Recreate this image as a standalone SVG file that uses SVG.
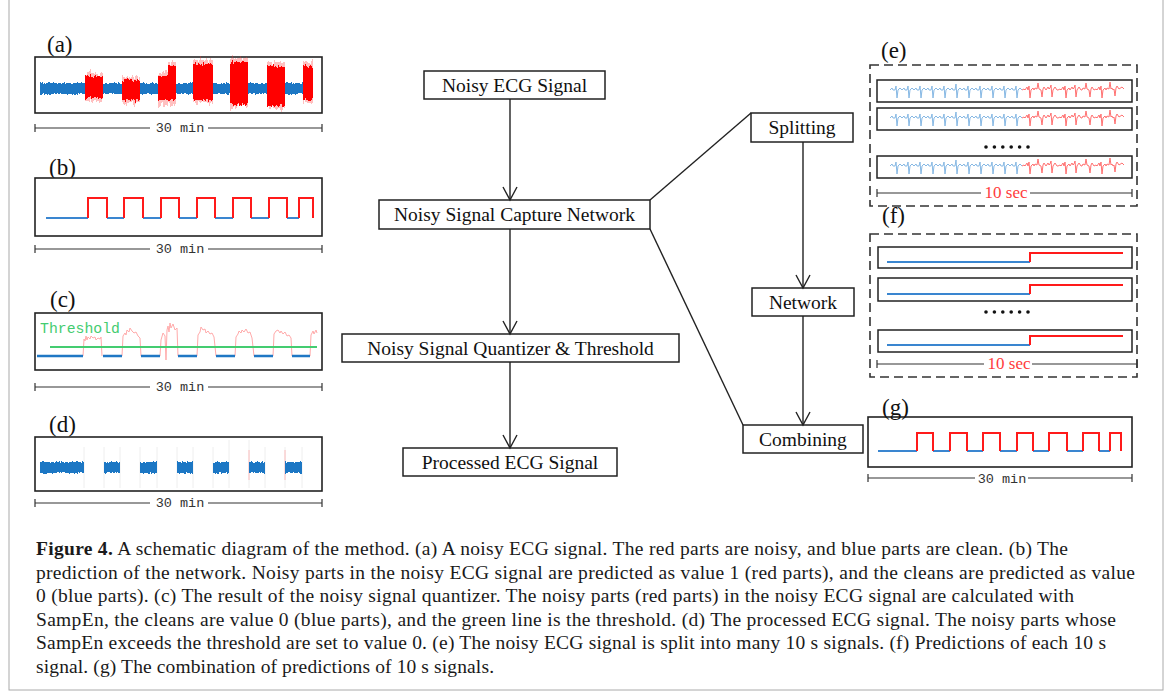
<svg xmlns="http://www.w3.org/2000/svg" width="1171" height="698" viewBox="0 0 1171 698">
<style>
.box{fill:#fff;stroke:#222;stroke-width:1.5}
.lbl{font-family:"Liberation Serif","Times New Roman",serif;font-size:19.5px;fill:#111;text-anchor:middle}
.conn{stroke:#222;stroke-width:1.4;fill:none}
.panel{fill:#fff;stroke:#222;stroke-width:1.6}
.plbl{font-family:"Liberation Serif","Times New Roman",serif;font-size:23px;fill:#111}
.bar{stroke:#333;stroke-width:1.2;fill:none}
.mono{font-family:"Liberation Mono","Courier New",monospace;font-size:13.5px;fill:#333;text-anchor:middle}
.sec{font-family:"Liberation Serif","Times New Roman",serif;font-size:17px;fill:#ff3b3b;text-anchor:middle}
.dash{fill:none;stroke:#333;stroke-width:1.6;stroke-dasharray:9 5}
.row{fill:#fff;stroke:#222;stroke-width:1.5}
.cap{font-family:"Liberation Serif","Times New Roman",serif;font-size:19.5px;fill:#1a1a1a}
.blue{stroke:#3a86d0;stroke-width:2;fill:none}
.red{stroke:#ff1a1a;stroke-width:2;fill:none}
</style>
<defs>
<marker id="arr" markerUnits="userSpaceOnUse" markerWidth="16" markerHeight="16" viewBox="0 0 16 16" refX="14" refY="8" orient="auto">
<path d="M1,1 L14,8 L1,15" fill="none" stroke="#222" stroke-width="1.4"/>
</marker>
<filter id="nzR" x="-10%" y="-100%" width="120%" height="300%">
<feTurbulence type="fractalNoise" baseFrequency="0.6 0.08" numOctaves="2" seed="3" result="t"/>
<feColorMatrix in="t" type="matrix" values="1 0 0 0 0  0 0 0 0 0.5  0 0 1 0 0  0 0 0 0 1" result="m"/>
<feDisplacementMap in="SourceGraphic" in2="m" scale="8" xChannelSelector="G" yChannelSelector="R"/>
</filter>
<filter id="nzR2" x="-10%" y="-100%" width="120%" height="300%">
<feTurbulence type="fractalNoise" baseFrequency="0.5 0.05" numOctaves="2" seed="11" result="t"/>
<feColorMatrix in="t" type="matrix" values="1 0 0 0 0  0 0 0 0 0.5  0 0 1 0 0  0 0 0 0 1" result="m"/>
<feDisplacementMap in="SourceGraphic" in2="m" scale="12" xChannelSelector="G" yChannelSelector="R"/>
</filter>
<filter id="nzB" x="-5%" y="-100%" width="110%" height="300%">
<feTurbulence type="fractalNoise" baseFrequency="0.8 0.1" numOctaves="2" seed="7" result="t"/>
<feColorMatrix in="t" type="matrix" values="1 0 0 0 0  0 0 0 0 0.5  0 0 1 0 0  0 0 0 0 1" result="m"/>
<feDisplacementMap in="SourceGraphic" in2="m" scale="4" xChannelSelector="G" yChannelSelector="R"/>
</filter>
<g id="ecg">
<path d="M890,10 l2,-2 l1,2 l2,0 l1,-4 l1,12 l1,-8 l2,-2 l2,2 l2,-2 l1,2 l2,0 l1,-4 l1,12 l1,-8 l2,-2 l2,2 l2,-2 l1,2 l2,0 l1,-4 l1,12 l1,-8 l2,-2 l2,2 l2,-2 l1,2 l2,0 l1,-4 l1,12 l1,-8 l2,-2 l2,2 l2,-2 l1,2 l2,0 l1,-4 l1,12 l1,-8 l2,-2 l2,2 l2,-2 l1,2 l2,0 l1,-6 l1,14 l1,-8 l2,-2 l2,2 l2,-2 l1,2 l2,0 l1,-4 l1,12 l1,-8 l2,-2 l2,2 l2,-2 l1,2 l2,0 l1,-4 l1,12 l1,-8 l2,-2 l2,2 l2,-2 l1,2 l2,0 l1,-4 l1,12 l1,-8 l2,-2 l2,2 l2,-2 l1,2 l2,0 l1,-4 l1,12 l1,-8 l2,-2 l2,2 l2,-2 l1,2 l2,0 l1,-4 l1,12 l1,-8 l2,-2 l2,2" fill="none" stroke="#86b8e4" stroke-width="1"/>
<path d="M1022,10 l2,-1 l1,1 l2,-3 l1,3 l1,-4 l1,12 l1,-8 l2,-2 l1,2 l1,-2 l2,1 l1,-6 l1,6 l2,1 l1,7 l1,-8 l1,-2 l2,3 l2,-3 l1,2 l1,-1 l1,-3 l1,12 l1,-7 l2,-3 l2,3 l1,0 l2,-1 l1,1 l2,-3 l1,3 l1,-4 l1,12 l1,-8 l2,-2 l1,2 l2,-3 l1,2 l1,-1 l1,-3 l1,12 l1,-7 l2,-3 l2,3 l1,0 l1,-2 l2,1 l1,-6 l1,6 l2,1 l1,7 l1,-8 l1,-2 l2,3 l2,-1 l1,1 l2,-3 l1,3 l1,-4 l1,12 l1,-8 l2,-2 l1,2 l1,-2 l2,1 l1,-7 l1,7 l1,-1 l1,2 l1,-1 l1,7 l1,-8 l1,-2 l2,3 l3,-2 l2,2" fill="none" stroke="#ff7070" stroke-width="1"/>
</g>
<g id="pred">
<path d="M887,15 H1030" class="blue"/>
<path d="M1030,15 V6 H1123" class="red"/>
</g>
</defs>
<rect x="0" y="0" width="1171" height="698" fill="#fff"/>
<rect x="9" y="-2" width="1154" height="692" fill="none" stroke="#aaa" stroke-width="1"/>

<!-- Panel (a) -->
<g id="panel-a">
<text class="plbl" x="47" y="52">(a)</text>
<rect class="panel" x="35" y="57" width="287" height="56"/>
<g filter="url(#nzB)"><rect x="40" y="83" width="263" height="11" fill="#1f77c4"/></g>
<g filter="url(#nzR2)" fill="#ff3030" opacity="0.3">
<rect x="85" y="73" width="18" height="28"/><rect x="122" y="77" width="18" height="26"/>
<path d="M158,73 H168 V62 H176 V104 H158 Z"/><rect x="193" y="60" width="20" height="43"/>
<rect x="230" y="58" width="18" height="49"/><rect x="267" y="62" width="18" height="47"/>
<rect x="303" y="62" width="10" height="41"/>
</g>
<g filter="url(#nzR)" fill="#ff0000">
<rect x="85" y="76" width="18" height="22"/><rect x="122" y="80" width="18" height="20"/>
<path d="M158,76 H168 V66 H176 V100 H158 Z"/><rect x="193" y="64" width="20" height="36"/>
<rect x="230" y="62" width="18" height="42"/><rect x="267" y="66" width="18" height="40"/>
<rect x="303" y="66" width="10" height="34"/>
</g>
<path class="bar" d="M35,124 V132 M35,128 H150 M208,128 H322 M322,124 V132"/>
<text class="mono" x="180" y="132">30 min</text>
</g>

<!-- Panel (b) -->
<g id="panel-b">
<text class="plbl" x="49" y="175">(b)</text>
<rect class="panel" x="35" y="178" width="287" height="58"/>
<path class="blue" d="M46,218 H88 M107,218 H124 M143,218 H161 M179,218 H197 M215,218 H233 M251,218 H269 M287,218 H299"/>
<path class="red" d="M88,218 V198 H107 V218 M124,218 V198 H143 V218 M161,218 V198 H179 V218 M197,218 V198 H215 V218 M233,218 V198 H251 V218 M269,218 V198 H287 V218 M299,218 V198 H313 V218"/>
<path class="bar" d="M35,245 V253 M35,249 H150 M208,249 H322 M322,245 V253"/>
<text class="mono" x="180" y="253">30 min</text>
</g>

<!-- Panel (c) -->
<g id="panel-c">
<text class="plbl" x="50" y="307">(c)</text>
<rect class="panel" x="35" y="313" width="287" height="57"/>
<path fill="none" stroke="#ffaaaa" stroke-width="1" d="M83,356 L84,339 L85,341 L86,336 L87,340 L88,337 L90,339 L91,336 L93,338 L95,337 L96,340 L98,338 L100,339 L101,337 L102,356 M122,356 L123,336 L125,333 L126,335 L127,330 L129,332 L130,328 L132,331 L134,333 L136,332 L138,336 L140,338 L141,356 M160,356 L161,340 L163,333 L165,336 L166,360 L167,330 L168,326 L169,332 L170,323 L171,328 L173,324 L175,330 L177,328 L178,356 M197,356 L198,335 L200,332 L201,327 L203,330 L205,329 L206,333 L208,331 L210,334 L212,333 L214,337 L216,356 M235,356 L236,337 L238,334 L239,331 L241,333 L242,330 L244,332 L246,329 L248,333 L250,332 L252,338 L254,356 M273,356 L274,334 L276,331 L278,330 L280,333 L281,331 L283,334 L285,332 L287,336 L289,335 L291,338 L292,356 M310,356 L311,335 L313,331 L314,334 L316,330 L317,333"/>
<path d="M37,356 H83 M103,356 H122 M141,356 H160 M178,356 H197 M216,356 H235 M254,356 H273 M292,356 H310" stroke="#1f77c4" stroke-width="2.5" fill="none"/>
<path d="M50,347 H317" stroke="#44cc70" stroke-width="2" fill="none"/>
<text x="40" y="333" font-family="'Liberation Mono','Courier New',monospace" font-size="14.8" fill="#44cc70">Threshold</text>
<path class="bar" d="M35,383 V391 M35,387 H150 M208,387 H322 M322,383 V391"/>
<text class="mono" x="180" y="391">30 min</text>
</g>

<!-- Panel (d) -->
<g id="panel-d">
<text class="plbl" x="49" y="432">(d)</text>
<rect class="panel" x="35" y="437" width="287" height="54"/>
<path d="M84,447 V488 M104,447 V488 M120,447 V488 M140,447 V488 M157,447 V488 M177,447 V488 M193,447 V488 M213,447 V488 M229,440 V488 M249,440 V488 M265,447 V488 M285,447 V488 M302,447 V488" stroke="#eeeeee" stroke-width="1"/>
<path d="M249,450 V480 M285,450 V480" stroke="#ffb0b0" stroke-width="0.8"/>
<g filter="url(#nzB)" fill="#1f77c4">
<rect x="40" y="462" width="44" height="11"/><rect x="104" y="462" width="16" height="11"/>
<rect x="140" y="462" width="17" height="11"/><rect x="177" y="462" width="16" height="11"/>
<rect x="213" y="462" width="16" height="11"/><rect x="249" y="462" width="16" height="11"/>
<rect x="285" y="462" width="17" height="11"/>
</g>
<path class="bar" d="M35,499 V507 M35,503 H150 M208,503 H322 M322,499 V507"/>
<text class="mono" x="180" y="507">30 min</text>
</g>

<!-- Flowchart nodes -->
<g id="node-noisy-ecg"><rect class="box" x="424" y="71" width="181" height="28"/><text class="lbl" x="514.5" y="91.5">Noisy ECG Signal</text></g>
<g id="node-capture"><rect class="box" x="379" y="200" width="271" height="29"/><text class="lbl" x="514.5" y="221">Noisy Signal Capture Network</text></g>
<g id="node-quantizer"><rect class="box" x="342" y="334" width="337" height="28"/><text class="lbl" x="510.5" y="354.5">Noisy Signal Quantizer &amp; Threshold</text></g>
<g id="node-processed"><rect class="box" x="403" y="448" width="214" height="28"/><text class="lbl" x="510" y="468.5">Processed ECG Signal</text></g>
<g id="node-splitting"><rect class="box" x="751" y="113" width="102" height="29"/><text class="lbl" x="802" y="134">Splitting</text></g>
<g id="node-network"><rect class="box" x="752" y="288" width="102" height="28"/><text class="lbl" x="803" y="308.5">Network</text></g>
<g id="node-combining"><rect class="box" x="743" y="425" width="120" height="28"/><text class="lbl" x="803" y="445.5">Combining</text></g>

<!-- Connectors -->
<g id="connectors">
<path class="conn" d="M510,99 V200" marker-end="url(#arr)"/>
<path class="conn" d="M510,229 V334" marker-end="url(#arr)"/>
<path class="conn" d="M510,362 V448" marker-end="url(#arr)"/>
<path class="conn" d="M650,200 L751,113"/>
<path class="conn" d="M650,229 L743,425"/>
<path class="conn" d="M803,142 V288" marker-end="url(#arr)"/>
<path class="conn" d="M803,316 V425" marker-end="url(#arr)"/>
</g>

<!-- Panel (e) -->
<g id="panel-e">
<text class="plbl" x="881" y="58">(e)</text>
<rect class="dash" x="870" y="65" width="267" height="141"/>
<rect class="row" x="877" y="80" width="255" height="22"/>
<use href="#ecg" y="80"/>
<rect class="row" x="877" y="108" width="255" height="22"/>
<use href="#ecg" y="108"/>
<g fill="#111"><circle cx="986" cy="147" r="1.8"/><circle cx="994.4" cy="147" r="1.8"/><circle cx="1002.8" cy="147" r="1.8"/><circle cx="1011.2" cy="147" r="1.8"/><circle cx="1019.6" cy="147" r="1.8"/><circle cx="1028" cy="147" r="1.8"/></g>
<rect class="row" x="877" y="156" width="255" height="22"/>
<use href="#ecg" y="156"/>
<path class="bar" d="M877,189 V197 M877,193 H981 M1030,193 H1132 M1132,189 V197"/>
<text class="sec" x="1006" y="198">10 sec</text>
</g>

<!-- Panel (f) -->
<g id="panel-f">
<text class="plbl" x="882" y="223">(f)</text>
<rect class="dash" x="870" y="234" width="267" height="143"/>
<rect class="row" x="878" y="247" width="254" height="21"/>
<use href="#pred" y="247"/>
<rect class="row" x="878" y="278" width="254" height="23"/>
<use href="#pred" y="279"/>
<g fill="#111"><circle cx="986" cy="312" r="1.8"/><circle cx="994.4" cy="312" r="1.8"/><circle cx="1002.8" cy="312" r="1.8"/><circle cx="1011.2" cy="312" r="1.8"/><circle cx="1019.6" cy="312" r="1.8"/><circle cx="1028" cy="312" r="1.8"/></g>
<rect class="row" x="878" y="330" width="254" height="22"/>
<use href="#pred" y="330"/>
<path class="bar" d="M877,360 V368 M877,364 H984 M1032,364 H1137 M1137,360 V368"/>
<text class="sec" x="1009" y="369">10 sec</text>
</g>

<!-- Panel (g) -->
<g id="panel-g">
<rect class="panel" x="868" y="417" width="264" height="50"/>
<text class="plbl" x="882" y="415">(g)</text>
<path class="blue" d="M878,451 H917 M933,451 H950 M967,451 H983 M1000,451 H1017 M1033,451 H1049 M1067,451 H1083 M1099,451 H1110"/>
<path class="red" d="M917,451 V433 H933 V451 M950,451 V433 H967 V451 M983,451 V433 H1000 V451 M1017,451 V433 H1033 V451 M1049,451 V433 H1067 V451 M1083,451 V433 H1099 V451 M1110,451 V433 H1121 V451"/>
<path class="bar" d="M868,474 V482 M868,478 H975 M1028,478 H1132 M1132,474 V482"/>
<text class="mono" x="1002" y="483">30 min</text>
</g>

<!-- Caption -->
<g id="caption">
<text class="cap" x="36" y="555" textLength="1032"><tspan font-weight="bold">Figure 4.</tspan> A schematic diagram of the method. (a) A noisy ECG signal. The red parts are noisy, and blue parts are clean. (b) The</text>
<text class="cap" x="36" y="578.5" textLength="1099">prediction of the network. Noisy parts in the noisy ECG signal are predicted as value 1 (red parts), and the cleans are predicted as value</text>
<text class="cap" x="36" y="602" textLength="1038">0 (blue parts). (c) The result of the noisy signal quantizer. The noisy parts (red parts) in the noisy ECG signal are calculated with</text>
<text class="cap" x="36" y="625.5" textLength="1080">SampEn, the cleans are value 0 (blue parts), and the green line is the threshold. (d) The processed ECG signal. The noisy parts whose</text>
<text class="cap" x="36" y="649" textLength="1070">SampEn exceeds the threshold are set to value 0. (e) The noisy ECG signal is split into many 10 s signals. (f) Predictions of each 10 s</text>
<text class="cap" x="36" y="672.5" textLength="458">signal. (g) The combination of predictions of 10 s signals.</text>
</g>
</svg>
